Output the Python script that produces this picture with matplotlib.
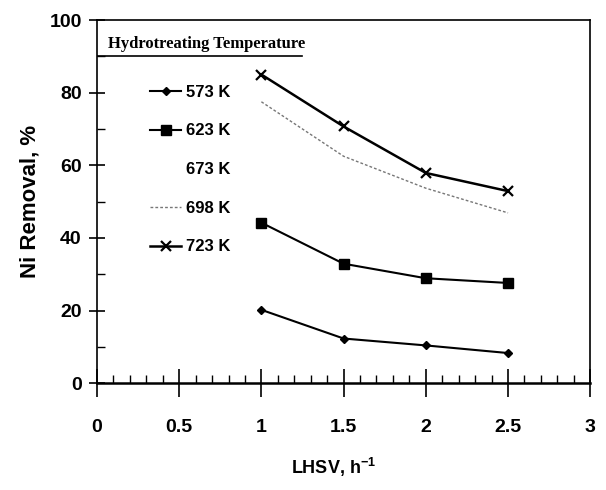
import numpy as np
import matplotlib
matplotlib.use('Agg')
import matplotlib.pyplot as plt
from matplotlib.lines import Line2D
from matplotlib.ticker import MultipleLocator

plt.rcParams['font.family'] = ['Liberation Sans', 'DejaVu Sans']

# data
lhsv = [1.0, 1.5, 2.0, 2.5]
ni_573 = [20.2, 12.3, 10.4, 8.3]
ni_623 = [44.2, 32.9, 28.9, 27.6]
ni_698 = [77.5, 62.5, 53.7, 46.9]
ni_723 = [85.0, 70.7, 57.9, 52.9]
temps = ['573 K', '623 K', '673 K', '698 K', '723 K']
xticks = np.arange(0, 3.01, 0.5)
xticklabels = ['0', '0.5', '1', '1.5', '2', '2.5', '3']

fig = plt.figure(figsize=(6.06, 4.9), dpi=100)
ax = fig.add_axes([0.160, 0.218, 0.814, 0.741])

l1, = ax.plot(lhsv, ni_573, 'k-', marker='D', ms=4.5, lw=1.5)
l2, = ax.plot(lhsv, ni_623, 'k-', marker='s', ms=7, lw=1.5)
l4, = ax.plot(lhsv, ni_698, color='#777777', ls=(0, (2, 1.5)), lw=1.0)
l5, = ax.plot(lhsv, ni_723, 'k-', marker='x', ms=7, mew=1.6, lw=1.8)
l3 = Line2D([], [], color='none')

ax.set_xlim(0, 3)
ax.set_ylim(0, 100)
ax.set_xticks(xticks)
ax.set_xticklabels(xticklabels)
ax.xaxis.set_minor_locator(MultipleLocator(0.1))
ax.yaxis.set_major_locator(MultipleLocator(20))
ax.yaxis.set_minor_locator(MultipleLocator(10))
ax.tick_params(axis='x', which='major', direction='inout', length=20, width=1.2,
               labelsize=14, pad=16)
ax.tick_params(axis='y', which='major', direction='inout', length=12, width=1.2,
               labelsize=14, pad=5)
ax.tick_params(which='minor', direction='in', length=6, width=1.0)
ax.tick_params(top=False, right=False, which='both')
for lab in ax.get_xticklabels() + ax.get_yticklabels():
    lab.set_fontweight('bold')
for s in ax.spines.values():
    s.set_linewidth(1.2)
ax.spines['bottom'].set_linewidth(1.8)

ax.set_ylabel('Ni Removal, %', fontsize=16, fontweight='bold', labelpad=6)
ax.set_xlabel('LHSV, h$^{\\mathregular{-1}}$', fontsize=13, fontweight='bold')
ax.xaxis.set_label_coords(0.48, -0.20)

# legend title with underline
ax.text(0.07, 91.2, 'Hydrotreating Temperature', family='Liberation Serif',
        fontsize=12, fontweight='bold', va='bottom', ha='left')
ax.plot([0, 1.25], [90.1, 90.1], 'k-', lw=1.2)

ax.legend([l1, l2, l3, l4, l5], temps, loc='upper left',
          bbox_to_anchor=(0.09, 0.845), frameon=False,
          prop={'weight': 'bold', 'size': 12}, handlelength=1.9,
          handletextpad=0.3, labelspacing=1.42, borderpad=0)

fig.savefig('out.png', dpi=100)
